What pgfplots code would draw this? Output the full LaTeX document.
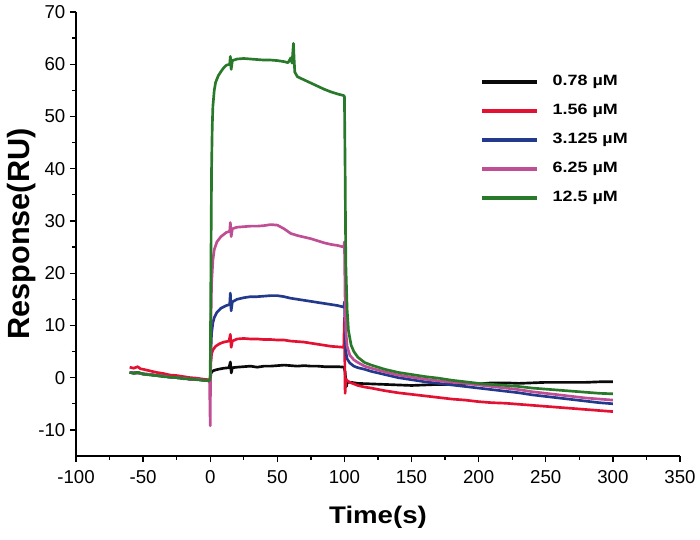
\documentclass[border=0pt]{standalone}
\usepackage{pgfplots}
\pgfplotsset{compat=1.18}
\usepackage{fontspec}
\setmainfont{Liberation Sans}
\newfontfamily\widefont{Liberation Sans}[FakeStretch=1.15]
\newfontfamily\legfont{Liberation Sans}[FakeStretch=1.2]
\definecolor{cblack}{RGB}{10,10,10}
\definecolor{cred}{RGB}{228,18,50}
\definecolor{cblue}{RGB}{35,58,140}
\definecolor{cpink}{RGB}{192,78,148}
\definecolor{cgreen}{RGB}{40,122,42}
\begin{document}
\begin{tikzpicture}
\begin{axis}[
  scale only axis,
  width=453pt, height=333pt,
  xmin=-100, xmax=350, ymin=-15, ymax=70,
  axis lines=left,
  axis line style={-, line width=1.1pt},
  xtick={-100,-50,...,350},
  ytick={-10,0,...,70},
  minor x tick num=1, minor y tick num=1,
  tick align=outside,
  major tick length=4.5pt, minor tick length=3pt,
  every tick/.style={line width=1pt, black},
  tick label style={font=\fontsize{14}{16}\selectfont},
  xticklabel style={yshift=-2.5pt},
  /pgf/number format/assume math mode=true,
  xlabel={Time(s)},
  ylabel={Response(RU)},
  every axis x label/.style={at={(axis description cs:0.5,-0.137)}, anchor=center, font=\widefont\bfseries\fontsize{18}{20}\selectfont},
  every axis y label/.style={at={(axis description cs:-0.0894,0.5)}, anchor=center, rotate=90, font=\bfseries\fontsize{23}{26}\selectfont},
  legend cell align=left,
  legend image code/.code={\draw[#1,line width=2.5pt] (0pt,0pt) -- (41pt,0pt); \path (52pt,0pt);},
  legend style={draw=none, fill=none, at={(axis description cs:0.669,0.858)}, anchor=north west, inner sep=0pt, font=\legfont\bfseries\fontsize{11.2}{13}\selectfont, row sep=11.75pt, nodes={inner sep=0pt, text height=8pt, text depth=2pt}},
  every axis plot/.append style={line width=2pt, line join=round},
]
% 0.78 uM
\addplot[cblack] coordinates {
(-60,1.0) (-57,0.9) (-54,1.0) (-50,0.7) (-45,0.6) (-40,0.4) (-35,0.3) (-30,0.1) (-25,0.0) (-20,-0.1) (-15,-0.3) (-10,-0.3) (-5,-0.5) (-1,-0.6)
(0,-0.5) (0.5,0.8) (1.5,1.2) (3,1.4) (6,1.6) (10,1.8) (14,1.9) (15,3.0) (15.7,0.9) (16.5,1.9) (20,2.0) (25,2.1) (30,2.2) (35,2.0) (40,2.2) (45,2.2) (50,2.3) (55,2.4) (60,2.3) (65,2.2) (70,2.3) (75,2.2) (80,2.2) (85,2.1) (90,2.1) (95,2.1) (99.8,2.0)
(100.5,1.0) (101.5,-1.7) (102,-0.9) (105,-0.9) (110,-1.1) (120,-1.2) (130,-1.3) (140,-1.4) (150,-1.5) (160,-1.4) (170,-1.3) (180,-1.3) (190,-1.2) (200,-1.2) (210,-1.0) (220,-1.0) (230,-1.1) (240,-1.0) (250,-0.9) (260,-0.9) (270,-0.9) (280,-0.9) (290,-0.8) (300,-0.8)
};
\addlegendentry{0.78 µM}
% 1.56 uM
\addplot[cred] coordinates {
(-60,2.0) (-57,1.8) (-54,2.1) (-52,1.7) (-50,1.6) (-45,1.3) (-40,1.0) (-35,0.8) (-30,0.5) (-25,0.4) (-20,0.2) (-15,0.0) (-10,-0.1) (-5,-0.3) (-1,-0.4)
(0,-0.4) (0.5,3) (1,4.5) (2,5.3) (4,6.0) (7,6.5) (10,6.8) (14,7.0) (15,8.3) (15.6,5.8) (16.5,7.0) (20,7.4) (25,7.5) (30,7.4) (35,7.4) (40,7.3) (45,7.3) (50,7.2) (55,7.2) (60,7.0) (65,6.9) (70,6.8) (75,6.6) (80,6.4) (85,6.2) (90,6.0) (95,5.9) (99.5,5.8)
(100,11.5) (100.5,-3.0) (101,-0.2) (102,-0.6) (105,-1.0) (110,-1.5) (115,-1.8) (120,-2.0) (130,-2.5) (140,-2.9) (150,-3.2) (160,-3.5) (170,-3.8) (180,-4.1) (190,-4.3) (200,-4.6) (210,-4.8) (220,-4.9) (230,-5.1) (240,-5.3) (250,-5.5) (260,-5.7) (270,-5.9) (280,-6.1) (290,-6.3) (300,-6.5)
};
\addlegendentry{1.56 µM}
% 3.125 uM
\addplot[cblue] coordinates {
(-60,1.0) (-57,0.9) (-54,0.9) (-50,0.7) (-45,0.6) (-40,0.4) (-35,0.3) (-30,0.1) (-25,0.0) (-20,-0.1) (-15,-0.3) (-10,-0.3) (-5,-0.5) (-1,-0.6)
(0,-0.5) (0.5,5) (1,8.5) (2,10.5) (3,11.5) (5,12.5) (8,13.3) (12,13.8) (14.5,14.0) (15,16.2) (15.6,12.8) (16.5,14.5) (20,15.0) (25,15.3) (30,15.5) (35,15.5) (40,15.6) (45,15.7) (50,15.7) (55,15.5) (60,15.2) (65,15.0) (70,14.8) (75,14.6) (80,14.4) (85,14.2) (90,14.0) (95,13.8) (99.5,13.5)
(100,14.5) (101,5) (102,3.6) (104,2.8) (107,2.2) (110,1.9) (115,1.6) (120,1.2) (130,0.6) (140,0.0) (150,-0.4) (160,-0.8) (170,-1.1) (180,-1.4) (190,-1.7) (200,-2.0) (210,-2.3) (220,-2.6) (230,-2.9) (240,-3.3) (250,-3.6) (260,-3.9) (270,-4.2) (280,-4.5) (290,-4.8) (300,-5.0)
};
\addlegendentry{3.125 µM}
% 6.25 uM
\addplot[cpink] coordinates {
(-60,1.0) (-57,0.9) (-54,0.9) (-50,0.7) (-45,0.6) (-40,0.4) (-35,0.3) (-30,0.1) (-25,0.0) (-20,-0.1) (-15,-0.3) (-10,-0.3) (-5,-0.5) (-0.5,-0.6)
(0,-9.2) (0.5,10) (1,18) (2,22.5) (3,24.5) (5,26) (8,27) (12,27.8) (14.5,28.0) (15,29.7) (15.6,27.0) (16.5,28.5) (20,28.8) (25,28.9) (30,29.0) (35,29.0) (40,29.1) (45,29.3) (50,29.2) (55,28.5) (60,27.6) (65,27.2) (70,26.9) (75,26.6) (80,26.2) (85,25.8) (90,25.5) (95,25.3) (99.5,25.0)
(100,26) (100.5,15) (101,9) (102,6) (104,4.3) (107,3.4) (110,2.9) (115,2.2) (120,1.8) (130,1.1) (140,0.5) (150,0.1) (160,-0.3) (170,-0.6) (180,-0.9) (190,-1.1) (200,-1.4) (210,-1.7) (220,-2.0) (230,-2.3) (240,-2.7) (250,-3.0) (260,-3.3) (270,-3.6) (280,-3.9) (290,-4.1) (300,-4.3)
};
\addlegendentry{6.25 µM}
% 12.5 uM
\addplot[cgreen] coordinates {
(-60,1.0) (-57,0.8) (-54,1.0) (-50,0.7) (-45,0.5) (-40,0.4) (-35,0.2) (-30,0.1) (-25,0.0) (-20,-0.2) (-15,-0.2) (-10,-0.4) (-5,-0.5) (-0.5,-0.6)
(0,0) (0.5,20) (1,40) (1.5,48) (2,52) (3,55) (4,56.5) (6,57.8) (8,58.6) (10,59.3) (12,59.8) (14.5,60.0) (15,61.5) (15.6,59.0) (16.5,60.7) (20,61.0) (25,61.1) (30,61.0) (35,60.9) (40,60.8) (45,60.8) (50,60.7) (55,60.5) (58,60.3) (60,61.2) (61,60.2) (62,64.0) (62.5,61) (63,58.5) (65,57.6) (70,57.0) (75,56.4) (80,55.8) (85,55.2) (90,54.7) (95,54.3) (99.5,54.0)
(100,53.8) (100.5,40) (101,22) (102,13) (103,9) (105,6.2) (107,5.0) (110,3.9) (115,2.9) (120,2.4) (130,1.6) (140,1.0) (150,0.6) (160,0.2) (170,-0.1) (180,-0.5) (190,-0.8) (200,-1.1) (210,-1.3) (220,-1.5) (230,-1.7) (240,-2.0) (250,-2.2) (260,-2.4) (270,-2.6) (280,-2.8) (290,-3.0) (300,-3.1)
};
\addlegendentry{12.5 µM}
\end{axis}
\path (current axis.south west) ++(-57pt,-63pt) coordinate (bl);
\path (current axis.north east) ++(15pt,9pt) coordinate (tr);
\path (bl) rectangle (tr);
\end{tikzpicture}
\end{document}
